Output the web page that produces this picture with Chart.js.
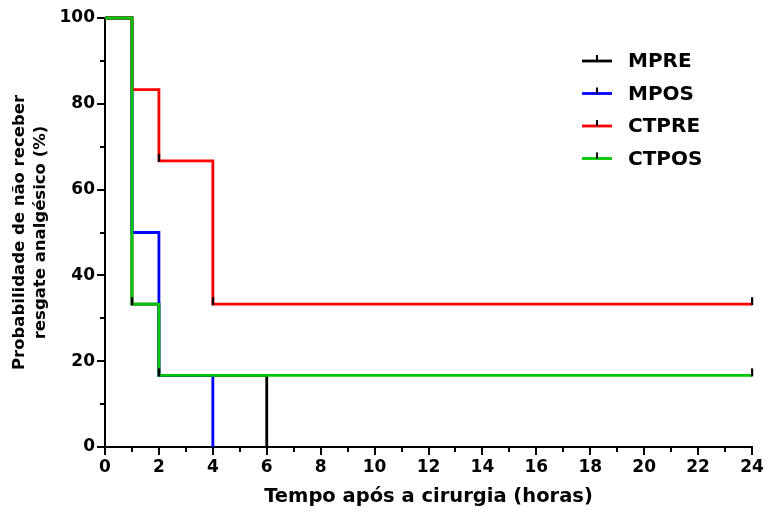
<!DOCTYPE html>
<html>
<head>
<meta charset="utf-8">
<script src="https://cdn.jsdelivr.net/npm/chart.js@4.4.1/dist/chart.umd.min.js"></script>
<style>
  html, body { margin: 0; padding: 0; background: #fff; }
  #wrap { width: 768px; height: 512px; }
</style>
</head>
<body>
<div id="wrap"><canvas id="km"></canvas></div>
<script>
/* ================= DATA ================= */
const seriesNames  = ["MPRE", "MPOS", "CTPRE", "CTPOS"];
const seriesColors = ["#000000", "#0000ff", "#ff0000", "#00c800"];

// Kaplan-Meier steps (horas, %)
const mpreHours  = [0, 1, 2, 6];
const mpreProb   = [100, 33.3, 16.7, 0];
const mposHours  = [0, 1, 2, 4];
const mposProb   = [100, 50, 16.7, 0];
const ctpreHours = [0, 1, 2, 4, 24];
const ctpreProb  = [100, 83.3, 66.7, 33.3, 33.3];
const ctposHours = [0, 1, 2, 24];
const ctposProb  = [100, 33.3, 16.7, 16.7];

// censored marks
const censorHours = [2, 4, 24, 1, 2, 24];
const censorProb  = [66.7, 33.3, 33.3, 33.3, 16.7, 16.7];

const xTickLabels = [0, 2, 4, 6, 8, 10, 12, 14, 16, 18, 20, 22, 24];
const yTickLabels = [0, 20, 40, 60, 80, 100];

const FONT = "'DejaVu Sans', 'Liberation Sans', sans-serif";

function toPoints(xs, ys) {
    return xs.map((x, i) => ({ x: x, y: ys[i] }));
}

function stepSet(i, xs, ys, order) {
    return {
        label: seriesNames[i],
        data: toPoints(xs, ys),
        borderColor: seriesColors[i],
        backgroundColor: seriesColors[i],
        borderWidth: 2.8,
        stepped: "before",
        pointRadius: 0,
        fill: false,
        clip: false,
        order: order
    };
}

// censor tick: small vertical mark sitting on top of the line
const tickMark = document.createElement("canvas");
tickMark.width = 4;
tickMark.height = 16;
(function () {
    const c = tickMark.getContext("2d");
    c.fillStyle = "#000";
    c.fillRect(1, 1, 2.2, 8);
})();

/* ================= PLUGINS ================= */
// minor ticks (odd hours / every 10 %)
const minorTicks = {
    id: "minorTicks",
    afterDraw(chart) {
        const ctx = chart.ctx;
        const xs = chart.scales.x, ys = chart.scales.y;
        ctx.save();
        ctx.strokeStyle = "#000";
        ctx.lineWidth = 2;
        ctx.beginPath();
        for (let v = 1; v < 24; v += 2) {
            const px = Math.round(xs.getPixelForValue(v));
            ctx.moveTo(px, ys.bottom);
            ctx.lineTo(px, ys.bottom + 5);
        }
        for (let v = 10; v < 100; v += 20) {
            const py = Math.round(ys.getPixelForValue(v));
            ctx.moveTo(xs.left, py);
            ctx.lineTo(xs.left - 5, py);
        }
        ctx.stroke();
        ctx.restore();
    }
};

// legend inside plot, top right
const insideLegend = {
    id: "insideLegend",
    afterDraw(chart) {
        const ctx = chart.ctx;
        ctx.save();
        ctx.font = "bold 20px " + FONT;
        ctx.textBaseline = "middle";
        seriesNames.forEach((name, i) => {
            const y = 61 + i * 32.5;
            ctx.strokeStyle = seriesColors[i];
            ctx.lineWidth = 2.8;
            ctx.beginPath();
            ctx.moveTo(582, y);
            ctx.lineTo(612, y);
            ctx.stroke();
            ctx.strokeStyle = "#000";
            ctx.lineWidth = 2;
            ctx.beginPath();
            ctx.moveTo(597, y);
            ctx.lineTo(597, y - 6);
            ctx.stroke();
            ctx.fillStyle = "#000";
            ctx.fillText(name, 628, y + 1);
        });
        ctx.restore();
    }
};

/* ================= CHART ================= */
new Chart(document.getElementById("km"), {
    type: "line",
    data: {
        datasets: [
            stepSet(3, ctposHours, ctposProb, 1),
            stepSet(2, ctpreHours, ctpreProb, 2),
            stepSet(1, mposHours, mposProb, 3),
            stepSet(0, mpreHours, mpreProb, 4),
            {
                label: "censor",
                data: toPoints(censorHours, censorProb),
                showLine: false,
                pointStyle: tickMark,
                pointRadius: 4,
                clip: false,
                order: 0
            }
        ]
    },
    options: {
        responsive: true,
        maintainAspectRatio: false,
        animation: false,
        layout: { padding: { left: 0, top: 18, right: 16, bottom: 0 } },
        plugins: {
            legend: { display: false },
            tooltip: { enabled: false }
        },
        scales: {
            x: {
                type: "linear",
                min: 0,
                max: 24,
                afterFit(s) { s.height = 65; },
                border: { display: true, color: "#000", width: 2 },
                grid: {
                    drawOnChartArea: false,
                    tickLength: 8,
                    lineWidth: 2,
                    color: "#000"
                },
                ticks: {
                    stepSize: 2,
                    padding: 2,
                    color: "#000",
                    maxRotation: 0,
                    autoSkip: false,
                    font: { family: FONT, size: 17, weight: "bold" },
                    callback: v => xTickLabels.includes(v) ? v : ""
                },
                title: {
                    display: true,
                    text: "Tempo após a cirurgia (horas)",
                    color: "#000",
                    padding: { top: 1, bottom: 3 },
                    font: { family: FONT, size: 19.5, weight: "bold" }
                }
            },
            y: {
                min: 0,
                max: 100,
                afterFit(s) { s.width = 105; },
                border: { display: true, color: "#000", width: 2 },
                grid: {
                    drawOnChartArea: false,
                    tickLength: 8,
                    lineWidth: 2,
                    color: "#000"
                },
                ticks: {
                    stepSize: 20,
                    padding: 2,
                    color: "#000",
                    font: { family: FONT, size: 17, weight: "bold" },
                    callback: v => yTickLabels.includes(v) ? v : ""
                },
                title: {
                    display: true,
                    text: ["Probabilidade de não receber", "resgate analgésico (%)"],
                    color: "#000",
                    padding: { top: 9, bottom: 0 },
                    font: { family: FONT, size: 16.5, weight: "bold", lineHeight: 1.3 }
                }
            }
        }
    },
    plugins: [minorTicks, insideLegend]
});
</script>
</body>
</html>
